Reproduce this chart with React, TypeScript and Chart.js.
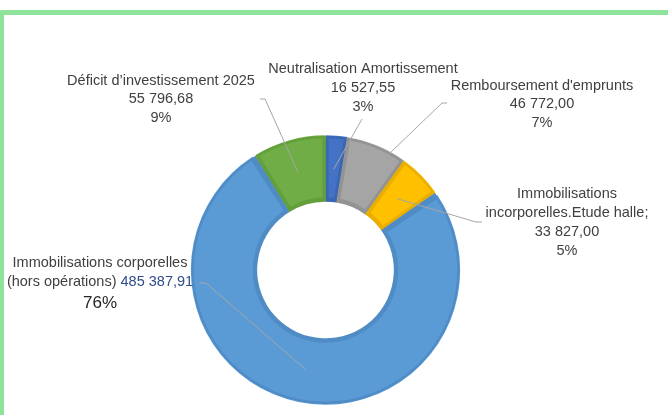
import React, { useEffect, useRef } from "react";
import { Chart, registerables } from "chart.js";

Chart.register(...registerables);

// ---- Data ----
const categories = [
  "Neutralisation Amortissement",
  "Remboursement d'emprunts",
  "Immobilisations incorporelles.Etude halle;",
  "Immobilisations corporelles (hors opérations)",
  "Déficit d’investissement 2025",
];
const categoryLines = [
  ["Neutralisation Amortissement"],
  ["Remboursement d'emprunts"],
  ["Immobilisations", "incorporelles.Etude halle;"],
  ["Immobilisations corporelles", "(hors opérations)"],
  ["Déficit d’investissement 2025"],
];
const values = [16527.55, 46772.0, 33827.0, 485387.91, 55796.68];

// ---- Styles ----
const colors = ["#4472C4", "#A5A5A5", "#FFC000", "#5B9BD5", "#70AD47"];
const borderColors = ["#3A66B4", "#939393", "#E9AE00", "#4F8CC6", "#63A03C"];
const FONT = '"Liberation Sans", Arial, sans-serif';
const TEXT_COLOR = "#404040";
const LINE_COLOR = "#A6A6A6";

type LabelLayout = {
  cx: number;
  ys: number[];
  leader: number[][];
  angleFrac: number;
  radFrac: number;
  inline?: boolean;
};

const labelLayouts: LabelLayout[] = [
  { cx: 363, ys: [69, 88, 107], leader: [[362, 119]], angleFrac: 0.5, radFrac: 0.5 },
  { cx: 542, ys: [86, 104, 123], leader: [[447, 103], [442, 103]], angleFrac: 0.73, radFrac: 0.96 },
  { cx: 567, ys: [194, 213, 232, 251], leader: [[482, 222], [476, 222]], angleFrac: 0.5, radFrac: 0.5 },
  { cx: 100, ys: [263, 282, 303], leader: [[200, 283], [206, 283]], angleFrac: 0.5, radFrac: 0.5, inline: true },
  { cx: 161, ys: [81, 99, 118], leader: [[260, 99], [265, 99]], angleFrac: 0.5, radFrac: 0.5 },
];

function fmt(v: number): string {
  const [i, d] = v.toFixed(2).split(".");
  return i.replace(/\B(?=(\d{3})+(?!\d))/g, " ") + "," + d;
}

const labelPlugin = {
  id: "excelLabels",
  afterDraw(chart: any) {
    const ctx = chart.ctx as CanvasRenderingContext2D;
    const meta = chart.getDatasetMeta(0);
    const data = chart.data.datasets[0].data as number[];
    const total = data.reduce((a, b) => a + b, 0);
    ctx.save();
    meta.data.forEach((arc: any, i: number) => {
      const L = labelLayouts[i];
      const { x, y, startAngle, endAngle, innerRadius, outerRadius } = arc.getProps(
        ["x", "y", "startAngle", "endAngle", "innerRadius", "outerRadius"],
        true
      );
      const a = startAngle + (endAngle - startAngle) * L.angleFrac;
      const r = innerRadius + (outerRadius - innerRadius) * L.radFrac;
      const ax = x + Math.cos(a) * r;
      const ay = y + Math.sin(a) * r;
      // leader line
      ctx.strokeStyle = LINE_COLOR;
      ctx.lineWidth = 1;
      ctx.beginPath();
      ctx.moveTo(L.leader[0][0], L.leader[0][1]);
      for (let k = 1; k < L.leader.length; k++) ctx.lineTo(L.leader[k][0], L.leader[k][1]);
      ctx.lineTo(ax, ay);
      ctx.stroke();

      const pct = Math.round((data[i] / total) * 100) + "%";
      const valStr = fmt(data[i]);
      ctx.textBaseline = "middle";
      ctx.fillStyle = TEXT_COLOR;
      ctx.font = `14.5px ${FONT}`;
      if (L.inline) {
        const lines = categoryLines[i];
        ctx.textAlign = "center";
        ctx.fillText(lines[0], L.cx, L.ys[0]);
        const part1 = lines[1] + " ";
        const w1 = ctx.measureText(part1).width;
        const w2 = ctx.measureText(valStr).width;
        const sx = L.cx - (w1 + w2) / 2;
        ctx.textAlign = "left";
        ctx.fillText(part1, sx, L.ys[1]);
        ctx.fillStyle = "#2F4B8C";
        ctx.fillText(valStr, sx + w1, L.ys[1]);
        ctx.fillStyle = "#262626";
        ctx.font = `17px ${FONT}`;
        ctx.textAlign = "center";
        ctx.fillText(pct, L.cx, L.ys[2]);
      } else {
        const lines = [...categoryLines[i], valStr, pct];
        ctx.textAlign = "center";
        lines.forEach((t, k) => ctx.fillText(t, L.cx, L.ys[k]));
      }
    });
    ctx.restore();
  },
};

export default function App() {
  const canvasRef = useRef<HTMLCanvasElement | null>(null);

  useEffect(() => {
    const canvas = canvasRef.current;
    if (!canvas) return;
    const chart = new Chart(canvas, {
      type: "doughnut",
      data: {
        labels: categories,
        datasets: [
          {
            data: values,
            backgroundColor: colors,
            borderColor: borderColors,
            hoverBackgroundColor: colors,
            hoverBorderColor: borderColors,
            borderWidth: 3,
            hoverBorderWidth: 3,
            borderAlign: "inner",
            spacing: 2,
          } as any,
        ],
      },
      options: {
        responsive: false,
        animation: false,
        events: [],
        cutout: "51%",
        layout: { padding: { top: 135, bottom: 10, left: 0, right: 17 } },
        plugins: {
          legend: { display: false },
          tooltip: { enabled: false },
          title: { display: false },
        },
      } as any,
      plugins: [labelPlugin],
    });
    return () => chart.destroy();
  }, []);

  return (
    <div style={{ position: "fixed", left: 0, top: 0, width: 668, height: 415, background: "#ffffff", overflow: "hidden" }}>
      <div
        style={{
          position: "absolute",
          left: 0,
          top: 10,
          width: 668,
          height: 405,
          boxSizing: "border-box",
          borderTop: "5px solid #8DE39A",
          borderLeft: "4px solid #8DE39A",
        }}
      />
      <canvas ref={canvasRef} width={668} height={415} style={{ position: "absolute", left: 0, top: 0, width: 668, height: 415 }} />
    </div>
  );
}
